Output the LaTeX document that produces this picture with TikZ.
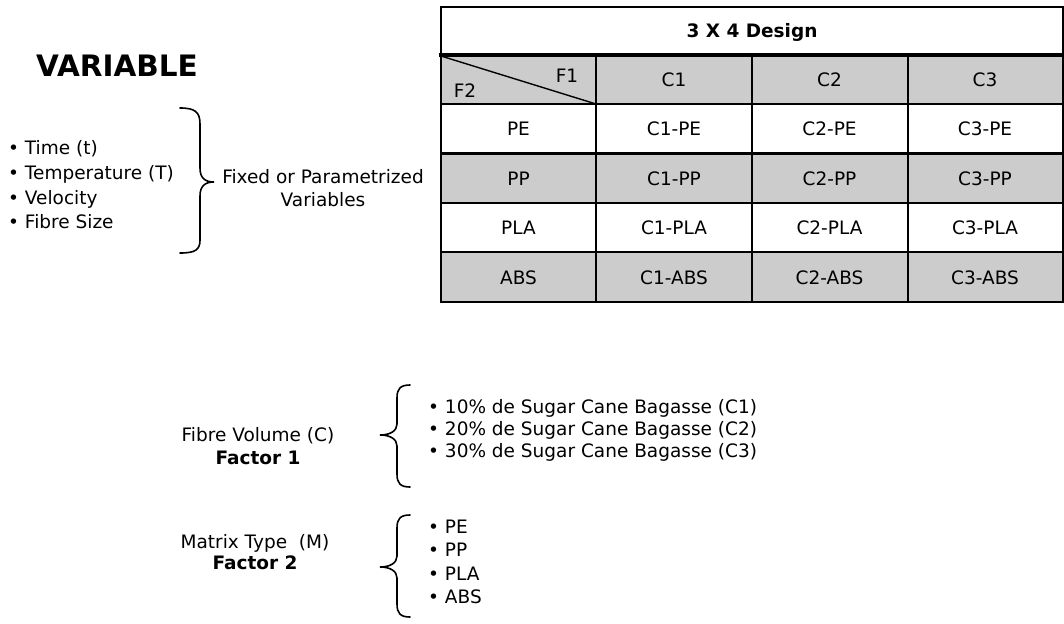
\documentclass[tikz,border=0pt]{standalone}
\usepackage{fontspec}
\setmainfont{DejaVu Sans}
\usetikzlibrary{positioning}
\definecolor{cellgray}{RGB}{204,204,204}

\begin{document}
\begin{tikzpicture}[x=1pt,y=-1pt,
    txt/.style={inner sep=0pt, font=\fontsize{18.5}{20}\selectfont},
    cell/.style={txt, anchor=center},
    grid/.style={line width=2.6pt, line cap=rect},
    curly/.style={line width=1.6pt, line cap=round}]
  \useasboundingbox (0,0) rectangle (1064,623);

  % --- left block: variables kept fixed
  \node[inner sep=0pt, font=\fontsize{29.5}{30}\selectfont\bfseries] (title) at (117,66) {VARIABLE};
  \node[txt, anchor=west, align=left, font=\fontsize{18.5}{24.7}\selectfont] (vars) at (8,185)
    {\textbullet\ Time (t)\\ \textbullet\ Temperature (T)\\ \textbullet\ Velocity\\ \textbullet\ Fibre Size};
  \draw[curly] (180,108) .. controls (195,108) and (200,112) .. (200,124) -- (200,168)
    .. controls (200,178) and (205,182) .. (214,182)
    .. controls (205,182) and (200,186) .. (200,196) -- (200,240)
    .. controls (200,250) and (195,253) .. (180,253);
  \node[txt, align=center, font=\fontsize{18.5}{23}\selectfont] (fixed) at (323,188)
    {Fixed or Parametrized\\ Variables};

  % --- design table
  \fill[cellgray] (441,55) rectangle (1063,104);
  \fill[cellgray] (441,153.5) rectangle (1063,203);
  \fill[cellgray] (441,252) rectangle (1063,302);
  \foreach \y in {104,153.5,203,252}
    \draw[grid] (441,\y) -- (1063,\y);
  \draw[grid, line width=3.6pt] (441,55) -- (1063,55);
  \foreach \x in {596,752,908}
    \draw[grid] (\x,55) -- (\x,302);
  \draw[grid] (441,7) rectangle (1063,302);
  \draw[line width=1.4pt] (441,56) -- (596,104);

  \node[cell, font=\fontsize{18.5}{20}\selectfont\bfseries] (design) at (752,32) {3 X 4 Design};
  \node[cell] (f1) at (567,76) {F1};
  \node[cell] (f2) at (465,91) {F2};
  \foreach \c in {1,2,3}
    \node[cell] (head\c) at ({518.5+155.5*\c},79.5) {C\c};
  \foreach \m [count=\i] in {PE,PP,PLA,ABS} {
    \pgfmathsetmacro\yc{129+49.5*(\i-1)}
    \node[cell] (row\i) at (518.5,\yc) {\m};
    \foreach \c in {1,2,3}
      \node[cell] (c\c-\i) at ({518.5+155.5*\c},\yc) {C\c-\m};
  }

  % --- factor 1: fibre volume
  \node[txt, align=center, font=\fontsize{18.5}{23}\selectfont] (fac1) at (258,446)
    {Fibre Volume (C)\\ \textbf{Factor 1}};
  \draw[curly] (410,385) .. controls (400,385) and (397,389) .. (397,398) -- (397,424)
    .. controls (397,431) and (390,435) .. (380,435)
    .. controls (390,435) and (397,439) .. (397,446) -- (397,474)
    .. controls (397,483) and (400,487) .. (410,487);
  \node[txt, anchor=west, align=left, font=\fontsize{18.5}{22}\selectfont] (vol) at (428,430)
    {\textbullet\ 10\% de Sugar Cane Bagasse (C1)\\ \textbullet\ 20\% de Sugar Cane Bagasse (C2)\\ \textbullet\ 30\% de Sugar Cane Bagasse (C3)};

  % --- factor 2: matrix type
  \node[txt, align=center, font=\fontsize{18.5}{21}\selectfont] (fac2) at (255,552)
    {Matrix Type\ \ (M)\\ \textbf{Factor 2}};
  \draw[curly] (410,515) .. controls (400,515) and (397,519) .. (397,528) -- (397,556)
    .. controls (397,563) and (390,567) .. (380,567)
    .. controls (390,567) and (397,571) .. (397,578) -- (397,604)
    .. controls (397,613) and (400,617) .. (410,617);
  \node[txt, anchor=west, align=left, font=\fontsize{18.5}{23.5}\selectfont] (mat) at (428,562)
    {\textbullet\ PE\\ \textbullet\ PP\\ \textbullet\ PLA\\ \textbullet\ ABS};
\end{tikzpicture}
\end{document}
